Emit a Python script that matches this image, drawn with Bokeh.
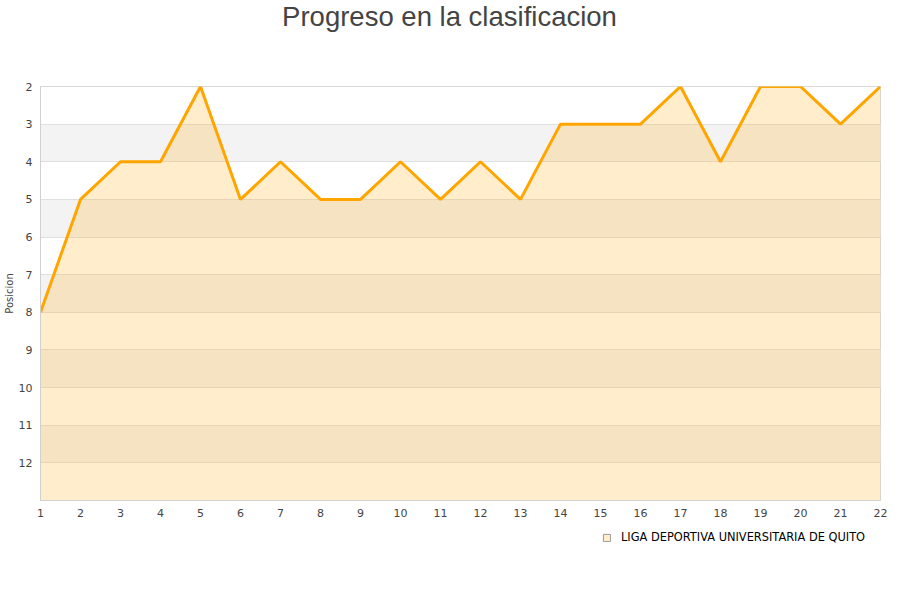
from bokeh.plotting import figure
from bokeh.layouts import column
from bokeh.models import Range1d, FixedTicker, Legend, LegendItem, ColumnDataSource, Label
from bokeh.embed import file_html
from bokeh.resources import INLINE

jornadas = list(range(1, 23))
posiciones = [8, 5, 4, 4, 2, 5, 4, 5, 5, 4, 5, 4, 5, 3, 3, 3, 2, 4, 2, 2, 3, 2]
y_ticks = list(range(2, 13))
equipo = "LIGA DEPORTIVA UNIVERSITARIA DE QUITO"
titulo = "Progreso en la clasificacion"

src = ColumnDataSource(dict(x=jornadas, y=posiciones, base=[13] * len(jornadas)))


def strip(height, yr):
    f = figure(width=892, height=height, output_backend="svg", toolbar_location=None,
               x_range=Range1d(0, 840), y_range=yr,
               x_axis_location=None, y_axis_location=None,
               min_border_left=0, min_border_right=0, min_border_top=0, min_border_bottom=0)
    f.outline_line_color = None
    f.grid.visible = False
    f.background_fill_color = "white"
    f.border_fill_color = "white"
    return f


# title strip (frame coordinates in pixels, y measured from top)
pt = strip(74, Range1d(74, 0))
pt.add_layout(Label(x=409, y=16, text=titulo, text_align="center", text_baseline="alphabetic",
                    text_font="Liberation Sans", text_font_size="27.5px", text_color="#444444"))

p = figure(width=892, height=456, output_backend="svg", toolbar_location=None,
           x_range=Range1d(1, 22), y_range=Range1d(13, 2),
           min_border_left=40, min_border_right=12, min_border_top=12, min_border_bottom=30)

p.outline_line_color = "#d8d8d8"
p.background_fill_color = "white"
p.border_fill_color = "white"

p.xgrid.visible = False
p.ygrid.grid_line_color = "#e0e0e0"
p.ygrid.band_fill_color = "#f3f3f3"
p.ygrid.band_fill_alpha = 1.0

p.yaxis.ticker = FixedTicker(ticks=y_ticks)
p.xaxis.ticker = FixedTicker(ticks=jornadas)
for ax in (p.xaxis, p.yaxis):
    ax.major_tick_line_color = None
    ax.minor_tick_line_color = None
    ax.major_tick_out = 0
    ax.major_tick_in = 0
    ax.axis_line_color = "#d0d0d0"
    ax.major_label_text_font = "DejaVu Sans"
    ax.major_label_text_font_size = "11px"
    ax.major_label_text_color = "#444444"
p.yaxis.axis_label = "Posicion"
p.yaxis.axis_label_text_font = "DejaVu Sans"
p.yaxis.axis_label_text_font_size = "10px"
p.yaxis.axis_label_text_font_style = "normal"
p.yaxis.axis_label_text_color = "#444444"
p.yaxis.axis_label_standoff = 1
p.yaxis.major_label_standoff = 8
p.xaxis.major_label_standoff = 8

p.varea(x="x", y1="y", y2="base", source=src, fill_color="#ffa500", fill_alpha=0.2)
p.line(x="x", y="y", source=src, line_color="#ffa500", line_width=3)

# legend strip below the chart
p2 = strip(62, Range1d(0, 62))
# legend swatch renderer (kept outside the visible range; only its legend glyph shows)
dummy = p2.quad(left=[-20], right=[-10], top=[-10], bottom=[-20],
                fill_color="#ffedcc", line_color="#999999")

legend = Legend(items=[LegendItem(label=equipo, renderers=[dummy])],
                location=(562, 48), orientation="horizontal",
                glyph_width=9, glyph_height=9, label_text_font="DejaVu Sans",
                label_text_font_size="11.4px", label_text_color="#000000",
                background_fill_alpha=0, border_line_color=None,
                padding=0, margin=0, label_standoff=10)
p2.add_layout(legend, "center")

open("out.html", "w").write(file_html(column(pt, p, p2, spacing=0), INLINE))
